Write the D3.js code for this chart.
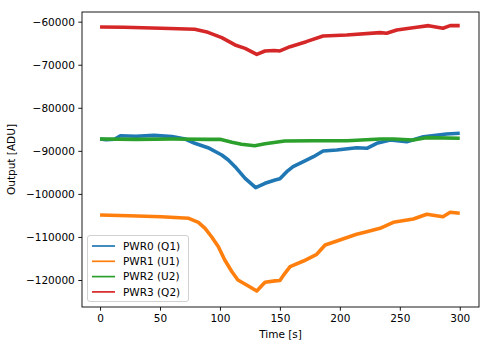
<!DOCTYPE html>
<html>
<head>
<meta charset="utf-8">
<script src="https://cdn.jsdelivr.net/npm/d3@7"></script>
<style>
  html, body { margin: 0; padding: 0; background: #fff; }
  svg { display: block; }
  text { font-family: "DejaVu Sans", sans-serif; }
</style>
</head>
<body>
<svg id="chart" width="490" height="347"></svg>
<script>
// ---- data ----
const seriesNames = ["PWR0 (Q1)", "PWR1 (U1)", "PWR2 (U2)", "PWR3 (Q2)"];
const seriesColors = ["#1f77b4", "#ff7f0e", "#2ca02c", "#d62728"];

const pwr0Time = [0, 5, 12, 17, 30, 45, 60, 71, 79, 90, 101.5, 107, 112.6, 121, 129.8, 137.6, 146, 150, 155.7, 161, 169.6, 178, 186, 197.4, 214, 222.5, 230.8, 242, 255.8, 269.7, 289, 300];
const pwr0Vals = [-87250, -87400, -87300, -86500, -86600, -86400, -86700, -87250, -88250, -89270, -90970, -92130, -93680, -96380, -98560, -97540, -96770, -96500, -94840, -93680, -92520, -91360, -90040, -89800, -89270, -89410, -88250, -87480, -87880, -86720, -86090, -85930];

const pwr1Time = [0, 24, 51, 74, 82, 87.6, 93, 98.7, 104, 110, 115, 123.7, 130.7, 135, 137.6, 146, 150, 154, 158.5, 169.6, 180.7, 187.7, 200, 214, 222.4, 233.5, 244.6, 261.3, 272.5, 286, 292, 300];
const pwr1Vals = [-104900, -105070, -105300, -105670, -106600, -108000, -109950, -112270, -115360, -118080, -120000, -121400, -122560, -121300, -120540, -120200, -120100, -118500, -116900, -115590, -114030, -111870, -110710, -109390, -108780, -108000, -106600, -105840, -104740, -105300, -104280, -104510];

const pwr2Time = [0, 30, 60, 90, 100, 110, 118, 129, 137.6, 154, 178, 206, 234, 245, 261, 272, 300];
const pwr2Vals = [-87250, -87330, -87250, -87330, -87330, -88020, -88480, -88800, -88340, -87710, -87650, -87650, -87250, -87250, -87480, -86940, -87090];

const pwr3Time = [0, 20, 51, 79, 90, 101.5, 112.6, 121, 130.7, 137.6, 145, 150, 158.5, 172, 186, 205.7, 233.5, 239, 247.5, 264, 274, 286, 292, 300];
const pwr3Vals = [-61230, -61300, -61530, -61770, -62470, -63700, -65400, -66200, -67580, -66800, -66700, -66800, -65800, -64640, -63320, -63090, -62550, -62700, -61930, -61300, -60920, -61530, -60920, -60920];

const xTicks = [0, 50, 100, 150, 200, 250, 300];
const yTicks = [-60000, -70000, -80000, -90000, -100000, -110000, -120000];
const xLabel = "Time [s]";
const yLabel = "Output [ADU]";

// ---- layout ----
const svg = d3.select("#chart");
const mLeft = 82, mRight = 479, mTop = 12, mBottom = 307;

const x = d3.scaleLinear().domain([-15.05, 316.05]).range([mLeft, mRight]);
const y = d3.scaleLinear().domain([-126270, -57750]).range([mBottom, mTop]);

const fmt = v => (v < 0 ? "\u2212" : "") + Math.abs(v);

// ---- lines ----
const series = [
  { t: pwr0Time, v: pwr0Vals },
  { t: pwr1Time, v: pwr1Vals },
  { t: pwr2Time, v: pwr2Vals },
  { t: pwr3Time, v: pwr3Vals }
];
const line = d3.line().x(d => x(d[0])).y(d => y(d[1]));

const plot = svg.append("g");
series.forEach((s, i) => {
  const pts = s.t.map((t, k) => [t, s.v[k]]);
  plot.append("path")
    .attr("d", line(pts))
    .attr("fill", "none")
    .attr("stroke", seriesColors[i])
    .attr("stroke-width", 3.6)
    .attr("stroke-linejoin", "round")
    .attr("stroke-linecap", "butt");
});

// ---- axes ----
const xAxis = d3.axisBottom(x).tickValues(xTicks).tickSize(3.7).tickPadding(3.5).tickFormat(d => d);
const yAxis = d3.axisLeft(y).tickValues(yTicks).tickSize(3.7).tickPadding(3.5).tickFormat(fmt);

const gx = svg.append("g").attr("transform", `translate(0,${mBottom})`).call(xAxis);
const gy = svg.append("g").attr("transform", `translate(${mLeft},0)`).call(yAxis);
[gx, gy].forEach(g => {
  g.select(".domain").remove();
  g.selectAll(".tick line").attr("stroke", "#000").attr("stroke-width", 0.9);
  g.selectAll(".tick text").attr("fill", "#000").style("font-size", "10.5px").style("font-family", "DejaVu Sans");
});

// frame
svg.append("rect")
  .attr("x", mLeft).attr("y", mTop)
  .attr("width", mRight - mLeft).attr("height", mBottom - mTop)
  .attr("fill", "none").attr("stroke", "#000").attr("stroke-width", 0.9);

// axis labels
svg.append("text")
  .attr("x", (mLeft + mRight) / 2).attr("y", 338)
  .attr("text-anchor", "middle")
  .style("font-size", "10.5px")
  .text(xLabel);
svg.append("text")
  .attr("transform", `translate(15,${(mTop + mBottom) / 2}) rotate(-90)`)
  .attr("text-anchor", "middle")
  .style("font-size", "10.5px")
  .text(yLabel);

// ---- legend ----
const lg = svg.append("g");
lg.append("rect")
  .attr("x", 87.5).attr("y", 235.5)
  .attr("width", 101).attr("height", 66)
  .attr("rx", 2.5)
  .attr("fill", "rgba(255,255,255,0.8)")
  .attr("stroke", "#cccccc").attr("stroke-width", 0.9);
seriesNames.forEach((name, i) => {
  const yy = 246 + i * 15.3;
  lg.append("line")
    .attr("x1", 92).attr("x2", 115)
    .attr("y1", yy).attr("y2", yy)
    .attr("stroke", seriesColors[i]).attr("stroke-width", 1.7);
  lg.append("text")
    .attr("x", 123).attr("y", yy + 3.8)
    .style("font-size", "10.5px")
    .text(name);
});
</script>
</body>
</html>
